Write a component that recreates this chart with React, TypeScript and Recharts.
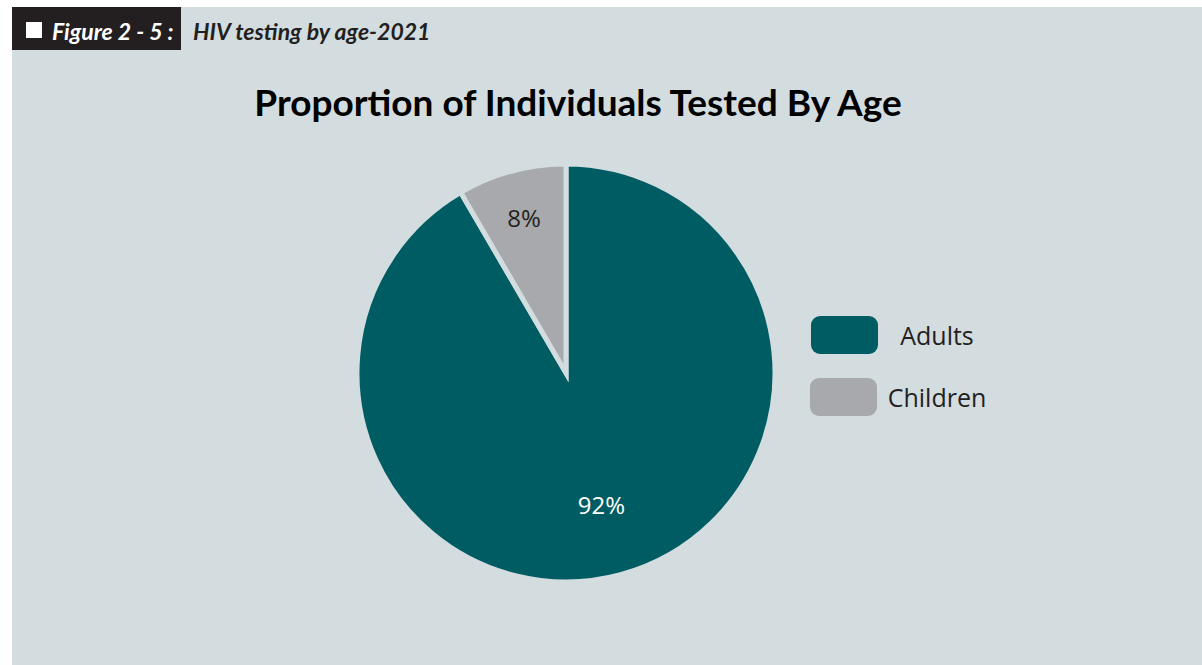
import { Pie, PieChart } from "recharts";

const categories = ["Adults", "Children"];
const shares = [91.6, 8.4];
const sliceColors = ["#005c63", "#a7a9ac"];

const PANEL = "#d3dcdf";
const RADIAN = Math.PI / 180;

const data = categories.map((name, i) => ({
  name,
  value: shares[i],
  fill: sliceColors[i],
}));

const renderLabel = (props: any) => {
  const { cx, cy, midAngle, outerRadius, percent, index } = props;
  const r = outerRadius * (index === 0 ? 0.65 : 0.77);
  const x = cx + r * Math.cos(-midAngle * RADIAN);
  const y = cy + r * Math.sin(-midAngle * RADIAN);
  return (
    <text
      x={x}
      y={y}
      fill={index === 0 ? "#ffffff" : "#231f20"}
      textAnchor="middle"
      dominantBaseline="central"
      fontFamily="'Open Sans', sans-serif"
      fontWeight={500}
      fontSize={24}
    >
      {`${Math.round(percent * 100)}%`}
    </text>
  );
};

// legend drawn by hand so it doesn't eat into the pie's layout box
const PieLegend = () => (
  <div style={{ position: "absolute", left: 811, top: 316, width: 200 }}>
    {categories.map((name, i) => (
      <div
        key={name}
        style={{ position: "absolute", left: 0, top: i * 62, height: 38 }}
      >
        <div
          style={{
            position: "absolute",
            left: i === 0 ? 0 : -1,
            top: 0,
            width: 67,
            height: 38,
            borderRadius: 9,
            background: sliceColors[i],
          }}
        />
        <div
          style={{
            position: "absolute",
            left: 72,
            width: 108,
            top: 0,
            lineHeight: "38px",
            textAlign: "center",
            fontFamily: "'Open Sans', sans-serif",
            fontWeight: 500,
            fontSize: 25,
            color: "#231f20",
            whiteSpace: "nowrap",
          }}
        >
          {name}
        </div>
      </div>
    ))}
  </div>
);

export default function App() {
  return (
    <div
      style={{
        position: "absolute",
        left: 0,
        top: 0,
        width: 1202,
        height: 665,
        background: "#ffffff",
        overflow: "hidden",
      }}
    >
      <div
        style={{
          position: "absolute",
          left: 12,
          top: 7,
          width: 1190,
          height: 658,
          background: PANEL,
        }}
      />
      <div
        style={{
          position: "absolute",
          left: 12,
          top: 7,
          width: 169,
          height: 43,
          background: "#231f20",
        }}
      />
      <div
        style={{
          position: "absolute",
          left: 26,
          top: 22,
          width: 16,
          height: 16,
          background: "#ffffff",
        }}
      />
      <div
        style={{
          position: "absolute",
          left: 52,
          top: 10,
          height: 43,
          lineHeight: "43px",
          fontFamily: "Lato, sans-serif",
          fontWeight: 700,
          fontStyle: "italic",
          fontSize: 23,
          color: "#ffffff",
          whiteSpace: "nowrap",
        }}
      >
        Figure 2 - 5 :
      </div>
      <div
        style={{
          position: "absolute",
          left: 193,
          top: 10,
          height: 43,
          lineHeight: "43px",
          fontFamily: "Lato, sans-serif",
          fontWeight: 700,
          fontStyle: "italic",
          fontSize: 23,
          color: "#231f20",
          whiteSpace: "nowrap",
        }}
      >
        HIV testing by age-2021
      </div>
      <div
        style={{
          position: "absolute",
          left: 12,
          width: 1132,
          top: 79,
          textAlign: "center",
          fontFamily: "Lato, sans-serif",
          fontWeight: 700,
          fontSize: 37,
          color: "#000000",
          whiteSpace: "nowrap",
        }}
      >
        Proportion of Individuals Tested By Age
      </div>
      <div style={{ position: "absolute", left: 12, top: 7 }}>
        <PieChart
          width={1190}
          height={658}
          margin={{ top: 0, right: 0, bottom: 0, left: 0 }}
        >
          <Pie
            data={data}
            dataKey="value"
            nameKey="name"
            cx={554}
            cy={366}
            outerRadius={209}
            startAngle={90}
            endAngle={-270}
            stroke={PANEL}
            strokeWidth={5}
            labelLine={false}
            label={renderLabel}
            isAnimationActive={false}
          />
        </PieChart>
      </div>
      <PieLegend />
    </div>
  );
}
